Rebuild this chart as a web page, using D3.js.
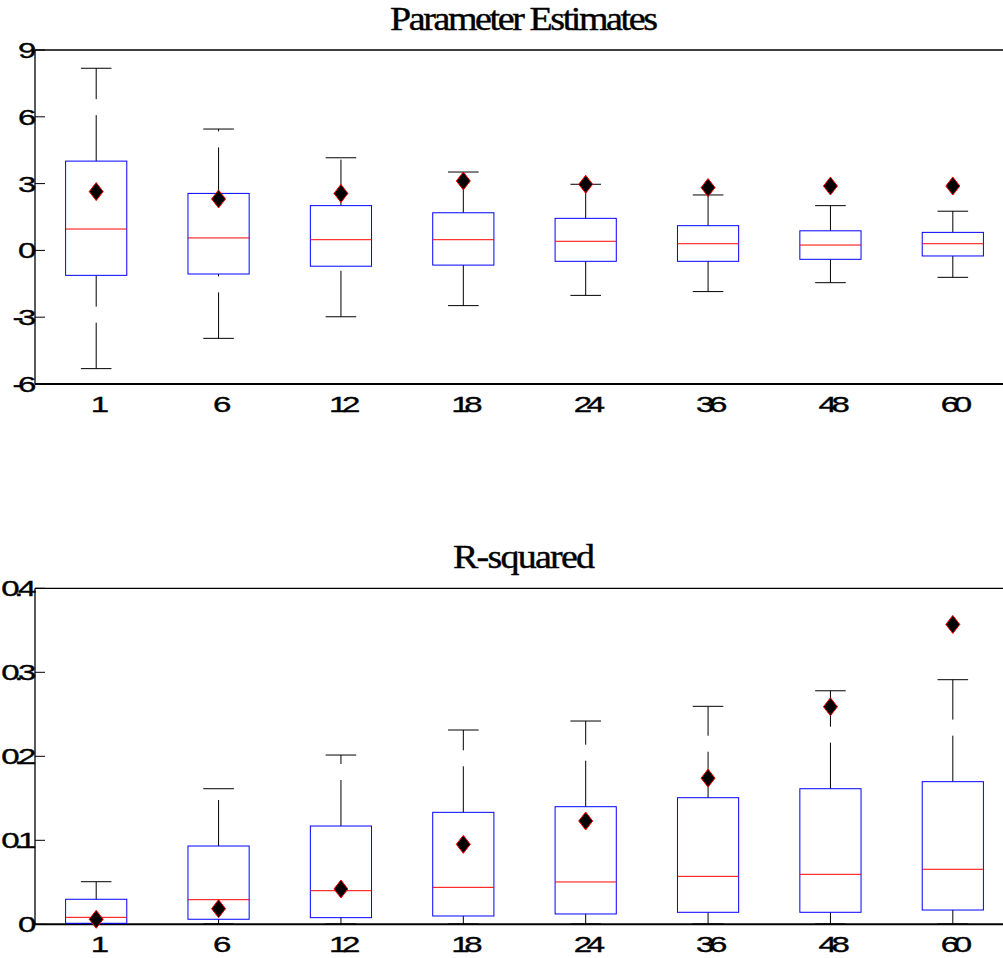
<!DOCTYPE html>
<html>
<head>
<meta charset="utf-8">
<script src="https://cdn.jsdelivr.net/npm/d3@7"></script>
<style>
  body { margin: 0; background: #fff; }
  svg { display: block; }
  .tick-label { font-family: "Liberation Sans", Arial, sans-serif; font-size: 22px; letter-spacing: -3.6px; fill: #000; stroke: #000; stroke-width: 0.35px; }
  .title { font-family: "Liberation Serif", "Times New Roman", serif; font-size: 33px; fill: #000; stroke: #000; stroke-width: 0.4px; }
</style>
</head>
<body>
<svg id="chart" width="1003" height="958"></svg>
<script>
const horizons = ["1", "6", "12", "18", "24", "36", "48", "60"];

// Parameter estimates: whisker ends, quartiles, median, and the marked estimate
const paramMax   = [8.18, 5.45, 4.16, 3.52, 2.97, 2.49, 2.01, 1.76];
const paramQ3    = [4.01, 2.56, 2.01, 1.69, 1.44, 1.11, 0.88, 0.81];
const paramMed   = [0.96, 0.56, 0.48, 0.48, 0.41, 0.30, 0.24, 0.30];
const paramQ1    = [-1.12, -1.06, -0.71, -0.66, -0.49, -0.49, -0.40, -0.25];
const paramMin   = [-5.31, -3.95, -2.98, -2.48, -2.02, -1.85, -1.45, -1.21];
const paramPoint = [2.64, 2.31, 2.56, 3.12, 2.97, 2.82, 2.89, 2.89];
const paramTicks = [-6, -3, 0, 3, 6, 9];

// R-squared
const r2Max   = [0.0507, 0.1614, 0.2015, 0.2313, 0.242, 0.2595, 0.278, 0.2912];
const r2Q3    = [0.0298, 0.0932, 0.117, 0.1333, 0.140, 0.1507, 0.1614, 0.1698];
const r2Med   = [0.0083, 0.0293, 0.040, 0.044, 0.0504, 0.0571, 0.0595, 0.0655];
const r2Q1    = [0.0012, 0.006, 0.0079, 0.0099, 0.0123, 0.0143, 0.0143, 0.017];
const r2Min   = [0.0005, 0.0005, 0.0005, 0.0005, 0.0005, 0.0005, 0.0005, 0.0005];
const r2Point = [0.006, 0.0186, 0.042, 0.0952, 0.123, 0.174, 0.259, 0.357];
const r2Ticks = [0, 0.1, 0.2, 0.3, 0.4];

const svg = d3.select("#chart");

const x = d3.scaleLinear().domain([0.5, horizons.length + 0.5]).range([35, 1014]);
const boxHalf = x(0.25) - x(0);
const capHalf = x(0.125) - x(0);
const titleStretch = 1.15;

function drawPanel(opt) {
  const y = d3.scaleLinear().domain(opt.domain).range([opt.bottom, opt.top]);
  const g = svg.append("g");

  const rows = horizons.map((h, i) => ({
    i: i + 1, label: h,
    max: opt.max[i], q3: opt.q3[i], med: opt.med[i], q1: opt.q1[i], min: opt.min[i], pt: opt.pt[i]
  }));

  // axes frame
  g.append("line").attr("x1", x.range()[0]).attr("x2", x.range()[1])
    .attr("y1", opt.top).attr("y2", opt.top).attr("stroke", "#000").attr("stroke-width", 1.3);
  g.append("line").attr("x1", x.range()[0]).attr("x2", x.range()[0])
    .attr("y1", opt.top).attr("y2", opt.bottom).attr("stroke", "#000").attr("stroke-width", 1.3);
  g.append("line").attr("x1", x.range()[0]).attr("x2", x.range()[1])
    .attr("y1", opt.bottom).attr("y2", opt.bottom).attr("stroke", "#000").attr("stroke-width", 2);

  // y ticks inside + labels
  opt.ticks.forEach(t => {
    g.append("line").attr("x1", x.range()[0]).attr("x2", x.range()[0] + 10)
      .attr("y1", y(t)).attr("y2", y(t)).attr("stroke", "#000");
    g.append("text").attr("class", "tick-label")
      .attr("text-anchor", "end")
      .attr("transform", `translate(31,${y(t) + 8}) scale(1.5,1)`)
      .text(String(t));
  });

  const box = g.selectAll("g.box").data(rows).enter().append("g").attr("class", "box");

  // whiskers, dashed from the lower value end
  box.append("line")
    .attr("x1", d => x(d.i)).attr("x2", d => x(d.i))
    .attr("y1", d => y(d.q3)).attr("y2", d => y(d.max))
    .attr("stroke", "#000").attr("stroke-dasharray", "46,16");
  box.append("line")
    .attr("x1", d => x(d.i)).attr("x2", d => x(d.i))
    .attr("y1", d => y(d.min)).attr("y2", d => y(d.q1))
    .attr("stroke", "#000").attr("stroke-dasharray", "46,16");

  // caps
  ["max", "min"].forEach(k => {
    box.append("line")
      .attr("x1", d => x(d.i) - capHalf).attr("x2", d => x(d.i) + capHalf)
      .attr("y1", d => y(d[k])).attr("y2", d => y(d[k]))
      .attr("stroke", "#000");
  });

  box.append("rect")
    .attr("x", d => x(d.i) - boxHalf)
    .attr("width", boxHalf * 2)
    .attr("y", d => y(d.q3))
    .attr("height", d => y(d.q1) - y(d.q3))
    .attr("fill", "none").attr("stroke", "#0000ff");

  box.append("line")
    .attr("x1", d => x(d.i) - boxHalf).attr("x2", d => x(d.i) + boxHalf)
    .attr("y1", d => y(d.med)).attr("y2", d => y(d.med))
    .attr("stroke", "#ff0000");

  // diamond marker for the estimate
  box.append("path")
    .attr("d", d => {
      const cx = x(d.i), cy = y(d.pt);
      return `M${cx},${cy - 9}L${cx + 7},${cy}L${cx},${cy + 9}L${cx - 7},${cy}Z`;
    })
    .attr("fill", "#000").attr("stroke", "#ff0000").attr("stroke-width", 1);

  // x labels
  box.append("text").attr("class", "tick-label")
    .attr("text-anchor", "middle")
    .attr("transform", d => `translate(${x(d.i) + 1},${opt.bottom + 28}) scale(1.5,1)`)
    .text(d => d.label);

  const cx = (x.range()[0] + x.range()[1]) / 2 - 0.5;
  svg.append("text").attr("class", "title")
    .attr("transform", `translate(${cx},${opt.top - 20}) scale(${titleStretch},1)`)
    .attr("text-anchor", "middle")
    .attr("textLength", opt.titleWidth / titleStretch)
    .attr("lengthAdjust", "spacing")
    .text(opt.title);
}

drawPanel({
  title: "Parameter Estimates", titleWidth: 268,
  top: 50, bottom: 384, domain: [-6, 9], ticks: paramTicks,
  max: paramMax, q3: paramQ3, med: paramMed, q1: paramQ1, min: paramMin, pt: paramPoint
});

drawPanel({
  title: "R-squared", titleWidth: 142,
  top: 588.3, bottom: 924.3, domain: [0, 0.4], ticks: r2Ticks,
  max: r2Max, q3: r2Q3, med: r2Med, q1: r2Q1, min: r2Min, pt: r2Point
});
</script>
</body>
</html>
